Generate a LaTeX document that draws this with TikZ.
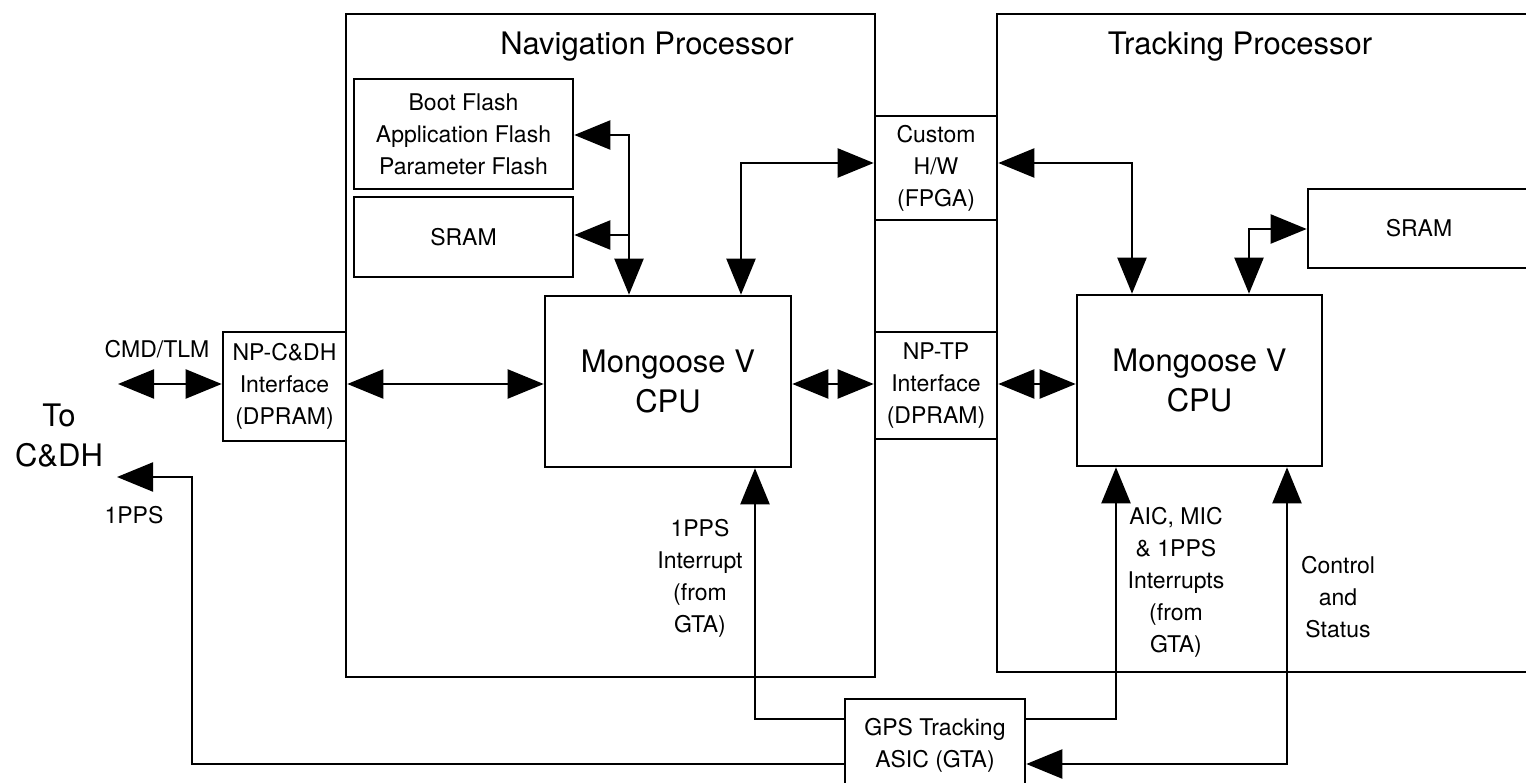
\documentclass[tikz,border=0pt]{standalone}
\usepackage{fontspec}
\setmainfont{TeX Gyre Heros}
\usetikzlibrary{arrows.meta}
\begin{document}
\begin{tikzpicture}[x=1pt,y=-1pt,
  box/.style={draw, line width=2.6pt, rectangle, inner sep=0pt, align=center,
              font=\fontsize{23}{32}\selectfont},
  cpubox/.style={box, font=\fontsize{31}{40}\selectfont},
  bigtext/.style={font=\fontsize{31}{40}\selectfont, align=center, inner sep=0pt},
  smalltext/.style={font=\fontsize{23}{32}\selectfont, align=center, inner sep=0pt},
  conn/.style={line width=2.2pt},
  >={Triangle[length=36pt,width=29pt]}
]
\useasboundingbox (0,0) rectangle (1526,783);
\clip (0,0) rectangle (1526,783);

% processor enclosures
\node[box, minimum width=529pt, minimum height=663pt] (np) at (610.5,345.5) {};
\node[box, minimum width=548pt, minimum height=658pt] (tp) at (1271,343) {};
\node[bigtext] (nptitle) at (647,47) {Navigation Processor};
\node[bigtext] (tptitle) at (1240,47) {Tracking Processor};

% inner boxes
\node[box, minimum width=219pt, minimum height=110pt] (boot) at (463.5,134) {Boot Flash\\Application Flash\\Parameter Flash};
\node[box, minimum width=219pt, minimum height=80pt] (sramnp) at (463.5,237) {SRAM};
\node[cpubox, minimum width=246pt, minimum height=171pt] (cpunp) at (668,381.5) {Mongoose V\\CPU};
\node[cpubox, minimum width=245pt, minimum height=171pt] (cputp) at (1199.5,380.5) {Mongoose V\\CPU};
\node[box, minimum width=222pt, minimum height=79pt] (sramtp) at (1419,228.5) {SRAM};
\node[box, minimum width=122pt, minimum height=104pt] (cust) at (936,168) {Custom\\H/W\\(FPGA)};
\node[box, minimum width=122pt, minimum height=107pt] (nptp) at (936,385.5) {NP-TP\\Interface\\(DPRAM)};
\node[box, minimum width=123pt, minimum height=109pt] (ncdh) at (284.5,386.5) {NP-C\&DH\\Interface\\(DPRAM)};
\node[box, minimum width=180pt, minimum height=92pt] (gta) at (935,745) {GPS Tracking\\ASIC (GTA)};

% free labels
\node[smalltext] (cmdlbl) at (157,349) {CMD/TLM};
\node[bigtext] (todh) at (59,436) {To\\C\&DH};
\node[smalltext] (ppslbl) at (134,515) {1PPS};
\node[smalltext] (intlbl) at (700,578) {1PPS\\Interrupt\\(from\\GTA)};
\node[smalltext] (aiclbl) at (1176,582) {AIC, MIC\\\& 1PPS\\Interrupts\\(from\\GTA)};
\node[smalltext] (ctllbl) at (1338,597) {Control\\and\\Status};

% helper coordinates
\coordinate (row) at (0,384);
\coordinate (cmdend) at (118,384);
\coordinate (ppsend) at (117,477);
\coordinate (j1) at (629,135);
\coordinate (j2) at (629,235);
\coordinate (j3) at (741,163);
\coordinate (j4) at (1132,163);
\coordinate (j5) at (1249,229);
\coordinate (j6) at (755,719);
\coordinate (j7) at (192,764);
\coordinate (j8) at (1116,719);
\coordinate (j9) at (1287,764);

% horizontal data paths
\draw[conn,<->] (cmdend) -- (cmdend -| ncdh.west);
\draw[conn,<->] (ncdh.east |- row) -- (cpunp.west |- row);
\draw[conn,<->] (cpunp.east |- row) -- (nptp.west |- row);
\draw[conn,<->] (nptp.east |- row) -- (cputp.west |- row);

% NP memory buses
\draw[conn,<->] (boot.east |- j1) -- (j1) -- (j1 |- cpunp.north);
\draw[conn,->] (j2) -- (sramnp.east |- j2);
\draw[conn,<->] (j3 |- cpunp.north) -- (j3) -- (j3 -| cust.west);

% TP buses
\draw[conn,<->] (cust.east |- j4) -- (j4) -- (j4 |- cputp.north);
\draw[conn,<->] (sramtp.west |- j5) -- (j5) -- (j5 |- cputp.north);

% GTA signals
\draw[conn,->] (gta.west |- j6) -- (j6) -- (j6 |- cpunp.south);
\draw[conn,->] (gta.west |- j7) -- (j7) -- (j7 |- ppsend) -- (ppsend);
\draw[conn,->] (gta.east |- j8) -- (j8) -- (j8 |- cputp.south);
\draw[conn,<->] (j9 |- cputp.south) -- (j9) -- (j9 -| gta.east);
\end{tikzpicture}
\end{document}
